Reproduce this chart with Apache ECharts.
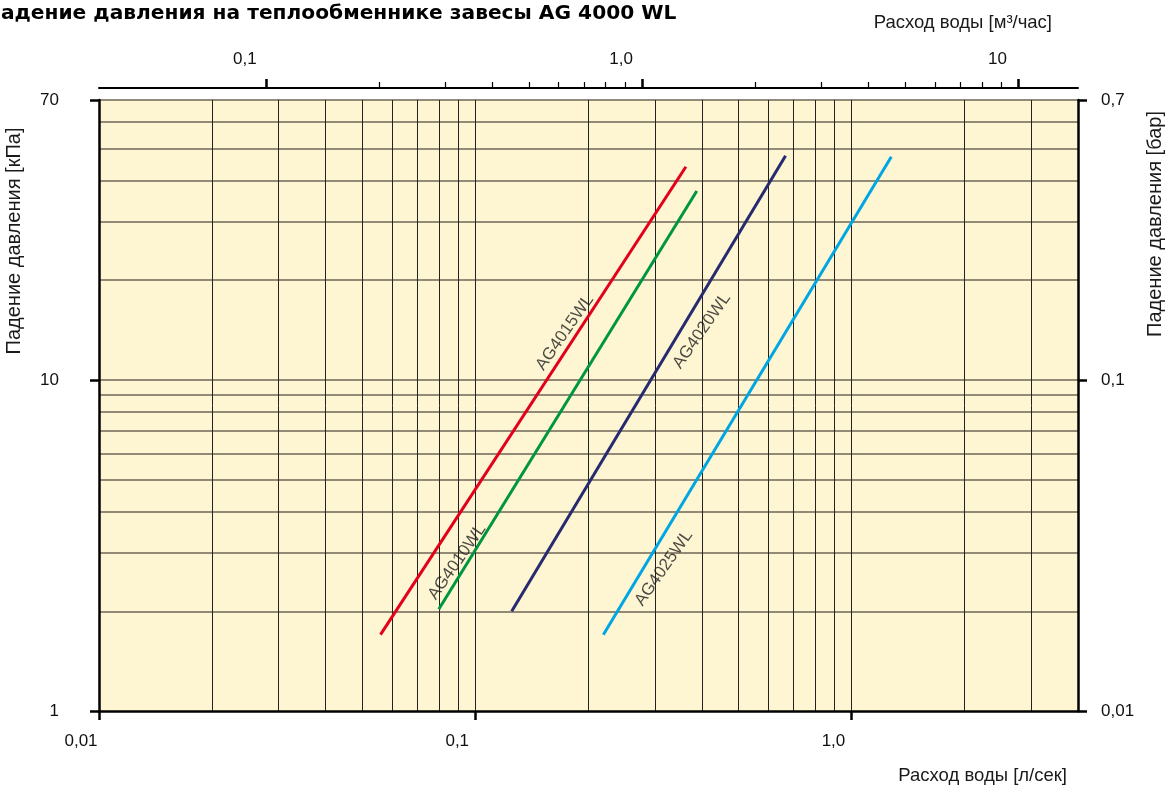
<!DOCTYPE html>
<html><head><meta charset="utf-8">
<script src="https://cdn.jsdelivr.net/npm/echarts@6/dist/echarts.min.js"></script>
<style>html,body{margin:0;padding:0;background:#fff}#c{width:1165px;height:785px}</style>
</head><body><div id="c"></div><script>
// ---- data ----
const FLOW_MIN = 0.01, FLOW_MAX = 4;          // л/сек
const DP_MIN = 1, DP_MAX = 70;                // кПа
const M3H_PER_LS = 3.6;
const KPA_PER_BAR = 100;

const bottomTicks = [0.01, 0.1, 1];
const bottomLabels = ['0,01', '0,1', '1,0'];
const topMajor = [0.1, 1, 10];
const topLabels = ['0,1', '1,0', '10'];
const topMinor = [0.2, 0.3, 0.4, 0.5, 0.6, 0.7, 0.8, 0.9, 2, 3, 4, 5, 6, 7, 8, 9];
const leftTicks = [1, 10, 70];
const leftLabels = ['1', '10', '70'];
const rightTicks = [0.01, 0.1, 0.7];
const rightLabels = ['0,01', '0,1', '0,7'];
const gridX = [0.02, 0.03, 0.04, 0.05, 0.06, 0.07, 0.08, 0.09, 0.1, 0.2, 0.3, 0.4, 0.5, 0.6, 0.7, 0.8, 0.9, 1, 2, 3];
const gridY = [2, 3, 4, 5, 6, 7, 8, 9, 10, 20, 30, 40, 50, 60, 70];

const models = ['AG4015WL', 'AG4010WL', 'AG4020WL', 'AG4025WL'];
const flowLs = [[0.056, 0.363], [0.080, 0.388], [0.125, 0.668], [0.219, 1.276]];
const dpKpa = [[1.70, 44.0], [2.03, 37.2], [2.00, 47.5], [1.70, 47.2]];
const labelAt = [[0.173, 13.9], [0.0895, 2.82], [0.400, 14.06], [0.317, 2.70]];
const colors = ['#e2001a', '#009640', '#262a6e', '#00a6e2'];

// ---- chart ----
const FONT = 'Liberation Sans, Arial, sans-serif';
function fmt(ticks, labels) {
  return function (v) {
    const i = ticks.findIndex(t => Math.abs(Math.log10(t) - Math.log10(v)) < 1e-6);
    return i >= 0 ? labels[i] : '';
  };
}
const blackLine = { color: '#000', width: 2.5 };
const tickLbl = { fontSize: 17, color: '#111', fontFamily: FONT };

const chart = echarts.init(document.getElementById('c'), null, { renderer: 'canvas' });
const series = models.map((m, i) => ({
  type: 'line', name: m, xAxisIndex: 0, yAxisIndex: 0,
  data: flowLs[i].map((x, j) => [x, dpKpa[i][j]]),
  symbol: 'none', lineStyle: { color: colors[i], width: 3 }, z: 4, silent: true
}));
series.push({
  type: 'scatter', xAxisIndex: 0, yAxisIndex: 0, symbolSize: 1,
  itemStyle: { color: 'rgba(0,0,0,0)' }, silent: true, z: 5,
  data: models.map((m, i) => ({ name: m, value: labelAt[i] })),
  label: { show: true, position: 'inside', formatter: '{b}', rotate: 55,
    fontSize: 17, color: '#1e1e1e', fontFamily: FONT }
});

chart.setOption({
  animation: false,
  backgroundColor: '#fff',
  grid: { left: 99, right: 87, top: 100, bottom: 74, show: true,
    backgroundColor: '#fef5d3', borderWidth: 0 },
  xAxis: [
    { type: 'log', logBase: 10, min: FLOW_MIN, max: FLOW_MAX, position: 'bottom',
      axisLine: { lineStyle: blackLine },
      axisTick: { customValues: bottomTicks, length: 9, lineStyle: blackLine },
      axisLabel: Object.assign({ customValues: bottomTicks, formatter: fmt(bottomTicks, bottomLabels),
        margin: 22, padding: [0, 36, 0, 0] }, tickLbl),
      splitLine: { show: false } },
    { type: 'log', logBase: 10, min: FLOW_MIN * M3H_PER_LS, max: FLOW_MAX * M3H_PER_LS,
      position: 'top', offset: 12,
      axisLine: { lineStyle: { color: '#000', width: 2 } },
      axisTick: { customValues: topMinor, length: 6, lineStyle: { color: '#000', width: 1.2 } },
      axisLabel: Object.assign({ customValues: topMajor, formatter: fmt(topMajor, topLabels),
        margin: 20, padding: [0, 42, 0, 0] }, tickLbl),
      splitLine: { show: false } },
    { type: 'log', logBase: 10, min: FLOW_MIN * M3H_PER_LS, max: FLOW_MAX * M3H_PER_LS,
      position: 'top', offset: 12,
      axisLine: { show: false },
      axisTick: { customValues: topMajor, length: 9, lineStyle: blackLine },
      axisLabel: { show: false }, splitLine: { show: false } },
    { type: 'log', logBase: 10, min: FLOW_MIN, max: FLOW_MAX, position: 'bottom',
      axisLine: { show: false },
      axisTick: { show: false, customValues: gridX },
      axisLabel: { show: false },
      splitLine: { show: true, lineStyle: { color: '#222', width: 1 } } }
  ],
  yAxis: [
    { type: 'log', logBase: 10, min: DP_MIN, max: DP_MAX, position: 'left',
      axisLine: { lineStyle: blackLine },
      axisTick: { customValues: leftTicks, length: 9, lineStyle: blackLine },
      axisLabel: Object.assign({ customValues: leftTicks, formatter: fmt(leftTicks, leftLabels),
        margin: 40 }, tickLbl),
      splitLine: { show: false } },
    { type: 'log', logBase: 10, min: DP_MIN / KPA_PER_BAR, max: DP_MAX / KPA_PER_BAR, position: 'right',
      axisLine: { lineStyle: blackLine },
      axisTick: { customValues: rightTicks, length: 9, lineStyle: blackLine },
      axisLabel: Object.assign({ customValues: rightTicks, formatter: fmt(rightTicks, rightLabels),
        margin: 23 }, tickLbl),
      splitLine: { show: false } },
    { type: 'log', logBase: 10, min: DP_MIN, max: DP_MAX, position: 'left',
      axisLine: { show: false },
      axisTick: { show: false, customValues: gridY },
      axisLabel: { show: false },
      splitLine: { show: true, lineStyle: { color: '#6e6656', width: 1.5 } } }
  ],
  graphic: [
    { type: 'text', left: -16, top: 4, silent: true,
      style: { text: 'Падение давления на теплообменнике завесы AG 4000 WL',
        font: 'bold 20.2px "DejaVu Sans", sans-serif', fill: '#000' } },
    { type: 'text', x: 1052, y: 23, silent: true,
      style: { text: 'Расход воды [м³/час]', font: '18.5px ' + FONT, fill: '#1a1a1a',
        align: 'right', verticalAlign: 'middle' } },
    { type: 'text', x: 1067, y: 776, silent: true,
      style: { text: 'Расход воды [л/сек]', font: '18.5px ' + FONT, fill: '#1a1a1a',
        align: 'right', verticalAlign: 'middle' } },
    { type: 'text', x: 14, y: 241, rotation: Math.PI / 2, silent: true,
      style: { text: 'Падение давления [кПа]', font: '20px ' + FONT, fill: '#1a1a1a',
        align: 'center', verticalAlign: 'middle' } },
    { type: 'text', x: 1155, y: 224, rotation: Math.PI / 2, silent: true,
      style: { text: 'Падение давления [бар]', font: '20px ' + FONT, fill: '#1a1a1a',
        align: 'center', verticalAlign: 'middle' } }
  ],
  series: series
});
</script></body></html>
